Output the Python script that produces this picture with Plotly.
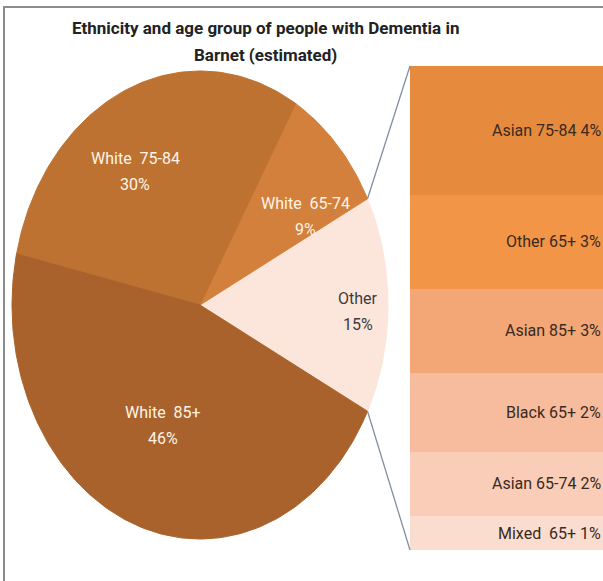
import math
import plotly.graph_objects as go

# ---------------- data ----------------
pie_labels = ["White 85+", "White 75-84", "White 65-74", "Other"]
pie_values = [46, 30, 9, 15]
pie_text_pct = ["46%", "30%", "9%", "15%"]

bar_labels = ["Asian 75-84", "Other 65+", "Asian 85+", "Black 65+", "Asian 65-74", "Mixed  65+"]
bar_values = [4.0, 2.9, 2.6, 2.45, 2.0, 1.05]
bar_text_pct = ["4%", "3%", "3%", "2%", "2%", "1%"]

title_lines = ["Ethnicity and age group of people with Dementia in", "Barnet (estimated)"]

# ---------------- styling / layout ----------------
W, H = 603, 581
FONT = "Liberation Sans Narrow, Arial Narrow, Roboto, sans-serif"
pie_colors = {"White 85+": "#A9622B", "White 75-84": "#BE7232",
              "White 65-74": "#D2803B", "Other": "#FCE6DB"}
pie_text_colors = {"White 85+": "#FFF4E8", "White 75-84": "#FFF4E8",
                   "White 65-74": "#FFF4E8", "Other": "#3C3C3C"}
bar_colors = ["#E68A3E", "#F39546", "#F3A676", "#F7BC9D", "#F9CDB7", "#FBDDCF"]

CX, CY, RX, RY = 200, 305, 188, 234      # ellipse of the pie (pixels)
BAR_LEFT, BAR_TOP, BAR_BOTTOM = 410, 66, 550
label_pos = {"White 85+": (163, 412), "White 75-84": (135, 158),
             "White 65-74": (305, 203), "Other": (358, 298)}
LINE_GAP = 26

fig = go.Figure()

# ---------------- pie (elliptical, drawn from values) ----------------
total = sum(pie_values)
other_idx = pie_labels.index("Other")
order = [other_idx] + [i for i in range(len(pie_labels) - 1, -1, -1) if i != other_idx]
start = -pie_values[other_idx] / total * 360 / 2
angles = {}
for i in order:
    span = pie_values[i] / total * 360
    angles[i] = (start, start + span)
    start += span

for i in order:
    a0, a1 = angles[i]
    n = max(4, int((a1 - a0) / 1.0))
    xs, ys = [CX], [CY]
    for k in range(n + 1):
        t = math.radians(a0 + (a1 - a0) * k / n)
        xs.append(CX + RX * math.cos(t))
        ys.append(CY - RY * math.sin(t))
    xs.append(CX); ys.append(CY)
    fig.add_trace(go.Scatter(x=xs, y=ys, mode="lines", fill="toself",
                             fillcolor=pie_colors[pie_labels[i]],
                             line=dict(color=pie_colors[pie_labels[i]], width=1),
                             hoverinfo="skip", showlegend=False, xaxis="x", yaxis="y"))

for i, lab in enumerate(pie_labels):
    px, py = label_pos[lab]
    for j, txt in enumerate([lab.replace(" ", "  ") if lab != "Other" else lab, pie_text_pct[i]]):
        fig.add_annotation(x=px, y=py + j * LINE_GAP, xref="x", yref="y", text=txt,
                           showarrow=False, font=dict(family=FONT, size=16,
                                                      color=pie_text_colors[lab]))

# ---------------- connector lines ----------------
a0, a1 = angles[other_idx]
p_top = (CX + RX * math.cos(math.radians(a1)), CY - RY * math.sin(math.radians(a1)))
p_bot = (CX + RX * math.cos(math.radians(a0)), CY - RY * math.sin(math.radians(a0)))
for p, by in [(p_top, BAR_TOP), (p_bot, BAR_BOTTOM)]:
    fig.add_shape(type="line", xref="x", yref="y", x0=p[0], y0=p[1], x1=BAR_LEFT, y1=by,
                  line=dict(color="#8090A2", width=1.3))

# ---------------- stacked bar ----------------
for lab, v, c in zip(bar_labels, bar_values, bar_colors):
    fig.add_trace(go.Bar(x=[0], y=[v], marker=dict(color=c, line=dict(width=0)),
                         width=1, xaxis="x2", yaxis="y2", showlegend=False,
                         hoverinfo="skip"))
cum = 0
for lab, v, pct in zip(bar_labels, bar_values, bar_text_pct):
    mid = cum + v / 2
    cum += v
    fig.add_annotation(x=1.0, xref="paper", xanchor="right", y=mid, yref="y2",
                       text=f"{lab} {pct}", showarrow=False,
                       font=dict(family=FONT, size=16, color="#3A2A22"))

# ---------------- title ----------------
for j, t in enumerate(title_lines):
    fig.add_annotation(x=265, y=28 + j * 27, xref="x", yref="y", text=f"<b>{t}</b>",
                       showarrow=False, font=dict(family=FONT, size=17, color="#222222"))

# ---------------- frame ----------------
fig.add_shape(type="path", xref="x", yref="y", path=f"M 4 {H} L 4 7 L {W} 7",
              line=dict(color="#8C8C8C", width=2))

fig.update_layout(
    width=W, height=H, margin=dict(l=0, r=0, t=0, b=0),
    paper_bgcolor="white", plot_bgcolor="rgba(0,0,0,0)",
    barmode="stack", bargap=0,
    xaxis=dict(domain=[0, 1], range=[0, W], visible=False, fixedrange=True),
    yaxis=dict(domain=[0, 1], range=[H, 0], visible=False, fixedrange=True),
    xaxis2=dict(domain=[BAR_LEFT / W, 1], range=[-0.5, 0.5], visible=False,
                anchor="y2", fixedrange=True),
    yaxis2=dict(domain=[1 - BAR_BOTTOM / H, 1 - BAR_TOP / H], range=[sum(bar_values), 0],
                visible=False, anchor="x2", fixedrange=True),
)

fig.write_html("out.html", config={"displayModeBar": False},
               post_script="document.body.style.margin='0';document.body.style.overflow='hidden';")
